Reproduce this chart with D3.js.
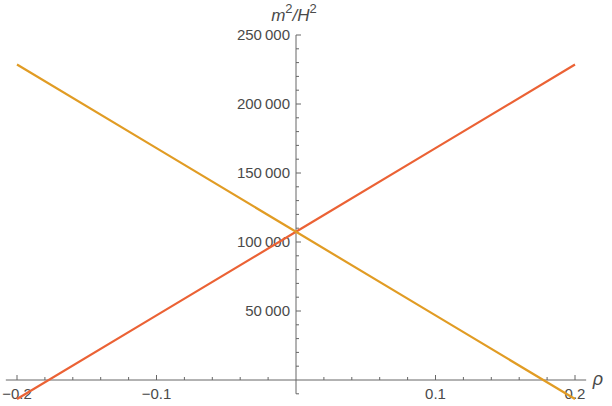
<!DOCTYPE html>
<html><head><meta charset="utf-8">
<script src="https://cdn.jsdelivr.net/npm/d3@7"></script>
<style>
html,body{margin:0;padding:0;background:#fff;}
svg text{font-family:"Liberation Sans",Arial,sans-serif;}
</style></head>
<body>
<svg id="chart" width="612" height="406"></svg>
<script>
const rho = [-0.2, -0.1, 0, 0.1, 0.2];
const seriesRed = [-13800, 46800, 107400, 168000, 228600];
const seriesOrange = [228600, 168000, 107400, 46800, -13800];
const xTicks = [-0.2, -0.1, 0.1, 0.2];
const xTickLabels = ["\u22120.2", "\u22120.1", "0.1", "0.2"];
const yTicks = [50000, 100000, 150000, 200000, 250000];
const yTickLabels = ["50\u2009000", "100\u2009000", "150\u2009000", "200\u2009000", "250\u2009000"];

const svg = d3.select("#chart");
const x = d3.scaleLinear().domain([-0.2, 0.2]).range([17, 575]);
const y = d3.scaleLinear().domain([0, 250000]).range([380, 35]);
const axisColor = "#666";
const textColor = "#4a4a4a";

// x axis line
const x0 = y(0), y0 = x(0);
svg.append("line").attr("x1", x(-0.208)).attr("x2", x(0.208))
  .attr("y1", x0).attr("y2", x0).attr("stroke", axisColor).attr("stroke-width", 1);
// y axis line
svg.append("line").attr("x1", y0).attr("x2", y0)
  .attr("y1", y(250000)).attr("y2", y(-10000)).attr("stroke", axisColor).attr("stroke-width", 1);

// x ticks (minor every 0.02)
d3.range(-10, 11).forEach(i => {
  const v = i * 0.02;
  if (i === 0) return;
  const major = i % 5 === 0;
  svg.append("line").attr("x1", x(v)).attr("x2", x(v))
    .attr("y1", x0).attr("y2", x0 - (major ? 5 : 3))
    .attr("stroke", axisColor).attr("stroke-width", 1);
});
// y ticks (minor every 10000)
d3.range(-1, 26).forEach(i => {
  const v = i * 10000;
  if (i === 0) return;
  const major = i % 5 === 0;
  svg.append("line").attr("x1", y0).attr("x2", y0 + (major ? 5 : 3))
    .attr("y1", y(v)).attr("y2", y(v))
    .attr("stroke", axisColor).attr("stroke-width", 1);
});

// tick labels
xTicks.forEach((t, i) => {
  svg.append("text").attr("x", x(t)).attr("y", 399)
    .attr("text-anchor", "middle").attr("font-size", 15).attr("fill", textColor)
    .text(xTickLabels[i]);
});
yTicks.forEach((t, i) => {
  svg.append("text").attr("x", 290).attr("y", y(t) + 5)
    .attr("text-anchor", "end").attr("font-size", 15).attr("fill", textColor)
    .text(yTickLabels[i]);
});

// series lines
const line = d3.line().x((d, i) => x(rho[i])).y(d => y(d));
svg.append("path").datum(seriesRed).attr("d", line)
  .attr("fill", "none").attr("stroke", "#EB6235").attr("stroke-width", 2.2);
svg.append("path").datum(seriesOrange).attr("d", line)
  .attr("fill", "none").attr("stroke", "#E19C24").attr("stroke-width", 2.2);

// axis labels
const lab = svg.append("text").attr("x", 294).attr("y", 21)
  .attr("text-anchor", "middle").attr("font-size", 17).attr("fill", textColor)
  .attr("font-style", "italic");
lab.append("tspan").text("m");
lab.append("tspan").attr("dy", -8).attr("font-size", 13).attr("font-style", "normal").text("2");
lab.append("tspan").attr("dy", 8).text("/");
lab.append("tspan").text("H");
lab.append("tspan").attr("dy", -8).attr("font-size", 13).attr("font-style", "normal").text("2");

svg.append("text").attr("x", 598).attr("y", 385).attr("text-anchor", "middle")
  .attr("font-size", 18).attr("font-style", "italic").attr("fill", textColor).text("\u03C1");
</script>
</body></html>
